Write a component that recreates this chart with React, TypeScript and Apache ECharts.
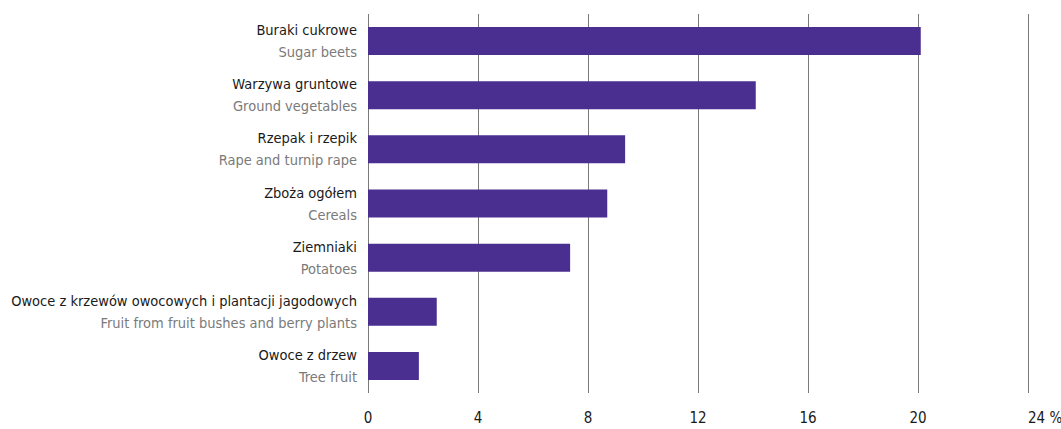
import React, { useEffect, useRef } from "react";
import * as echarts from "echarts";

const categoriesPl = [
  "Buraki cukrowe",
  "Warzywa gruntowe",
  "Rzepak i rzepik",
  "Zboża ogółem",
  "Ziemniaki",
  "Owoce z krzewów owocowych i plantacji jagodowych",
  "Owoce z drzew",
];
const categoriesEn = [
  "Sugar beets",
  "Ground vegetables",
  "Rape and turnip rape",
  "Cereals",
  "Potatoes",
  "Fruit from fruit bushes and berry plants",
  "Tree fruit",
];
const values = [20.1, 14.1, 9.35, 8.7, 7.35, 2.5, 1.85];
const xTicks = { min: 0, max: 24, interval: 4 };

const FONT = "'DejaVu Sans Condensed', 'Liberation Sans Narrow', 'Open Sans', sans-serif";

export default function App() {
  const ref = useRef<HTMLDivElement>(null);
  useEffect(() => {
    document.body.style.margin = "0";
    const chart = echarts.init(ref.current!, null, { renderer: "svg" });
    const cats = categoriesPl.map((p, i) => p + "\n" + categoriesEn[i]);
    chart.setOption({
      animation: false,
      backgroundColor: "#ffffff",
      grid: { left: 368, right: 33, top: 14, bottom: 36, containLabel: false, outerBoundsMode: "none" },
      xAxis: {
        type: "value",
        min: xTicks.min,
        max: xTicks.max,
        interval: xTicks.interval,
        axisLine: { show: false },
        axisTick: { show: false },
        splitLine: { show: true, lineStyle: { color: "#7a7a7a", width: 1 } },
        axisLabel: {
          margin: 17,
          color: "#1a1a1a",
          fontFamily: FONT,
          fontSize: 15,
          alignMaxLabel: "left",
          formatter: (v: number) => (v === xTicks.max ? v + " %" : String(v)),
        },
      },
      yAxis: {
        type: "category",
        inverse: true,
        data: cats,
        axisLine: { show: false },
        axisTick: { show: false },
        axisLabel: {
          margin: 11,
          fontFamily: FONT,
          formatter: (v: string) => {
            const [a, b] = v.split("\n");
            return "{a|" + a + "}\n{b|" + b + "}";
          },
          rich: {
            a: { color: "#1a1a1a", fontSize: 14.5, fontFamily: FONT, lineHeight: 22, align: "right" },
            b: { color: "#7a7a7a", fontSize: 14.5, fontFamily: FONT, lineHeight: 22, align: "right" },
          },
        },
      },
      series: [
        {
          type: "bar",
          data: values,
          barWidth: 28,
          itemStyle: { color: "#4a2f91" },
        },
      ],
    });
    return () => chart.dispose();
  }, []);
  return <div ref={ref} style={{ width: 1061, height: 429 }} />;
}
